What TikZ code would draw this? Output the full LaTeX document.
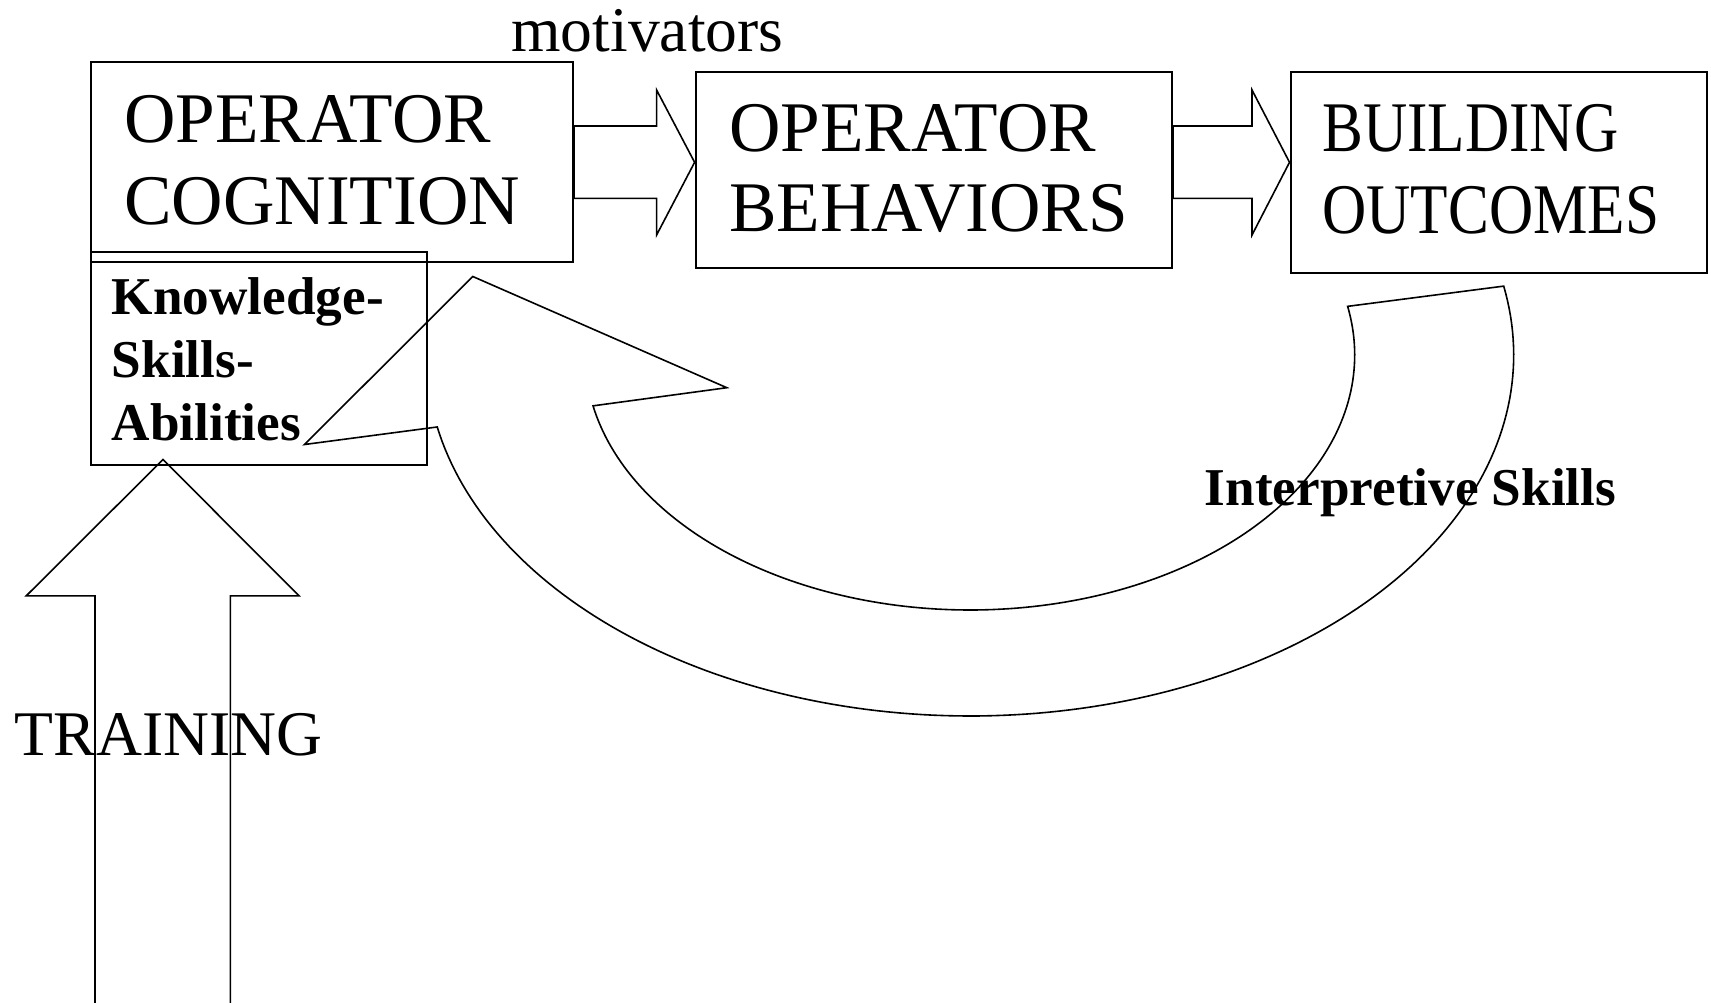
\documentclass[tikz,border=0pt]{standalone}
\usepackage{fontspec}
\usepackage{graphicx}
\setmainfont{Liberation Serif}
\begin{document}
\begin{tikzpicture}[x=0.5pt,y=-0.5pt,
  box/.style={draw, line width=1pt, rectangle, inner sep=0pt},
  bigtxt/.style={anchor=base west, inner sep=0pt, font=\fontsize{35.6}{40}\selectfont},
  midtxt/.style={anchor=base west, inner sep=0pt, font=\fontsize{31.8}{36}\selectfont},
  boldtxt/.style={anchor=base west, inner sep=0pt, font=\fontsize{26.6}{30}\selectfont\bfseries},
  blockarrow/.style={draw, line width=0.8pt, line join=miter},
  ]
\useasboundingbox (0,0) rectangle (1711,1002);

% boxes
\node[box, minimum width=241.25pt, minimum height=99.7pt] (b1) at (331.75,162) {};
\node[box, minimum width=168.15pt, minimum height=106.35pt] (ksa) at (258.65,358.65) {};
\node[box, minimum width=238.2pt, minimum height=98pt] (b2) at (933.8,170.3) {};
\node[box, minimum width=208.15pt, minimum height=100.5pt] (b3) at (1498.65,172.2) {};

% texts
\node[bigtxt] (b1t1) at (124,142.5) {OPERATOR};
\node[bigtxt] (b1t2) at (124,224) {COGNITION};
\node[bigtxt] (b2t1) at (729,151) {OPERATOR};
\node[bigtxt] (b2t2) at (729,231) {BEHAVIORS};
\node[bigtxt] (b3t1) at (1322,151.7) {\scalebox{0.86}[1]{BUILDING}};
\node[bigtxt] (b3t2) at (1322,233.4) {\scalebox{0.86}[1]{OUTCOMES}};
\node[midtxt] (mot) at (511,51.5) {motivators};
\node[midtxt] (train) at (14.5,755) {TRAINING};
\node[boldtxt] (k1) at (111.5,314) {Knowledge-};
\node[boldtxt] (k2) at (111.5,377) {Skills-};
\node[boldtxt] (k3) at (111.5,440.5) {Abilities};
\node[boldtxt] (interp) at (1204.5,505) {Interpretive Skills};

% block arrows between boxes
\draw[blockarrow] (b1.east |- 0,126) -- (656.6,126) -- (656.6,90) -- (b2.west |- 0,162.3)
  -- (656.6,235) -- (656.6,198.3) -- (b1.east |- 0,198.3) -- cycle;
\draw[blockarrow] (b2.east |- 0,126) -- (1252,126) -- (1252,90) -- (b3.west |- 0,162.3)
  -- (1252,235) -- (1252,198.3) -- (b2.east |- 0,198.3) -- cycle;

% training arrow
\draw[blockarrow] (95,1004) -- (95,595.8) -- (26.3,595.8) -- (163,459.5)
  -- (299,595.8) -- (230.4,595.8) -- (230.4,1004);

% curved feedback arrow
\draw[blockarrow] plot[domain=-11:168.5, samples=150] ({970+543.7*cos(\x)},{355+361*sin(\x)})
  -- (304.5,444.5) -- (472.8,276.5) -- (726.8,387.7)
  -- plot[domain=168.5:-11, samples=150] ({970+384.7*cos(\x)},{355+255*sin(\x)}) -- cycle;
\end{tikzpicture}
\end{document}
